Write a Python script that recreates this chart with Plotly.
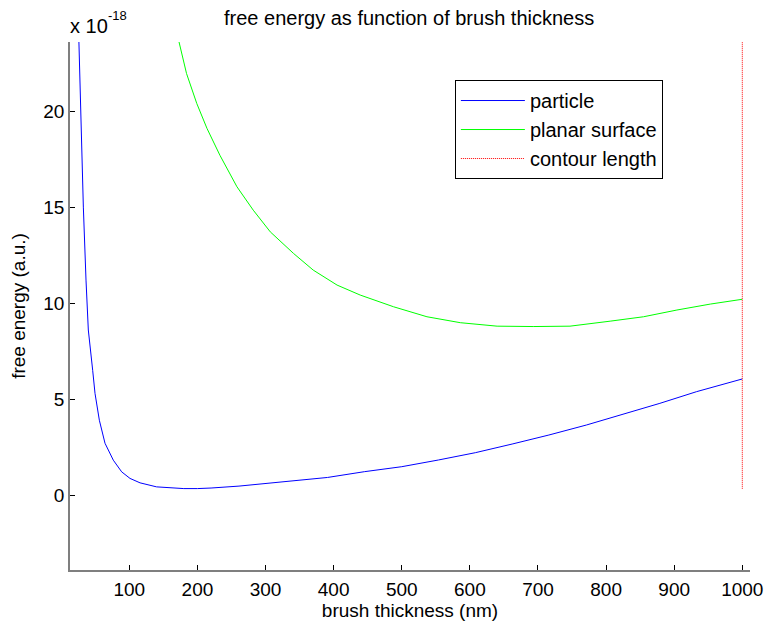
import plotly.graph_objects as go

# values in units of 1e-18 (axis multiplier shown as "x 10^-18")
particle_x = [26, 28.6, 32.5, 36.4, 39.8, 46.2, 49.6, 56, 64.3, 76.5, 88.8, 101, 115.7, 140, 160,
              180, 200, 220, 261, 315, 391, 445, 500, 554, 608, 662, 716, 771, 825, 879, 933, 1000]
particle_y = [23.6, 20.0, 15.0, 11.2, 8.6, 6.5, 5.3, 3.9, 2.7, 1.82, 1.21, 0.87, 0.64, 0.43, 0.37,
              0.34, 0.34, 0.37, 0.47, 0.65, 0.92, 1.22, 1.48, 1.83, 2.21, 2.66, 3.13, 3.65, 4.21, 4.78, 5.39, 6.05]

planar_x = [173, 184, 199, 214, 233, 258, 282, 307, 341, 370, 405, 439, 488, 537, 586, 640, 693,
            747, 806, 855, 904, 953, 1000]
planar_y = [23.6, 21.96, 20.4, 19.1, 17.7, 16.06, 14.84, 13.71, 12.59, 11.72, 10.94, 10.42, 9.81,
            9.29, 8.98, 8.80, 8.78, 8.80, 9.06, 9.29, 9.64, 9.95, 10.2]

contour_x = [1000, 1000]
contour_y = [0.33, 23.6]

x_ticks = [100, 200, 300, 400, 500, 600, 700, 800, 900, 1000]
y_ticks = [0, 5, 10, 15, 20]

FONT = "Arial, Liberation Sans, Helvetica, sans-serif"

fig = go.Figure()
fig.add_trace(go.Scatter(x=particle_x, y=particle_y, mode="lines", name="particle",
                         line=dict(color="#0000FF", width=1)))
fig.add_trace(go.Scatter(x=planar_x, y=planar_y, mode="lines", name="planar surface",
                         line=dict(color="#00FF00", width=1)))
fig.add_trace(go.Scatter(x=contour_x, y=contour_y, mode="lines", name="contour length",
                         line=dict(color="#FF0000", width=1, dash="1px,1px")))

fig.update_layout(
    width=764, height=630,
    margin=dict(l=70, r=14, t=42, b=60, autoexpand=False),
    paper_bgcolor="white", plot_bgcolor="white",
    font=dict(family=FONT, size=19, color="black"),
    showlegend=True,
    legend=dict(x=0.566, y=0.928, xanchor="left", yanchor="top",
                bordercolor="black", borderwidth=1, bgcolor="white",
                font=dict(size=20), itemwidth=64, tracegroupgap=0),
    xaxis=dict(range=[12.9, 1011.3], tickvals=x_ticks, ticks="inside", ticklen=5,
               tickcolor="black", showline=True, linecolor="#7f7f7f", linewidth=1.5,
               showgrid=False, zeroline=False, mirror=False, automargin=False,
               tickfont=dict(size=19), ticklabelstandoff=1,
               title=dict(text="brush thickness (nm)", font=dict(size=19), standoff=2)),
    yaxis=dict(range=[-3.9, 23.6], tickvals=y_ticks, ticks="inside", ticklen=5,
               tickcolor="black", showline=True, linecolor="#7f7f7f", linewidth=1.5,
               showgrid=False, zeroline=False, mirror=False, automargin=False,
               tickfont=dict(size=19), ticklabelstandoff=0,
               title=dict(text="free energy (a.u.)", font=dict(size=19), standoff=13)),
    annotations=[
        dict(text="free energy as function of brush thickness", xref="paper", yref="paper",
             x=0.4985, y=1.045, xanchor="center", yanchor="middle", showarrow=False,
             font=dict(size=20)),
        dict(text="x 10", xref="paper", yref="paper", x=0.0, y=1.0, xanchor="left",
             yanchor="middle", showarrow=False, font=dict(size=20), xshift=-2, yshift=16),
        dict(text="-18", xref="paper", yref="paper", x=0.0, y=1.0, xanchor="left",
             yanchor="middle", showarrow=False, font=dict(size=13), xshift=36, yshift=27),
    ],
)

fig.write_html(
    "out.html",
    config={"displayModeBar": False},
    post_script="document.body.style.margin='0';document.body.style.overflow='hidden';",
)
